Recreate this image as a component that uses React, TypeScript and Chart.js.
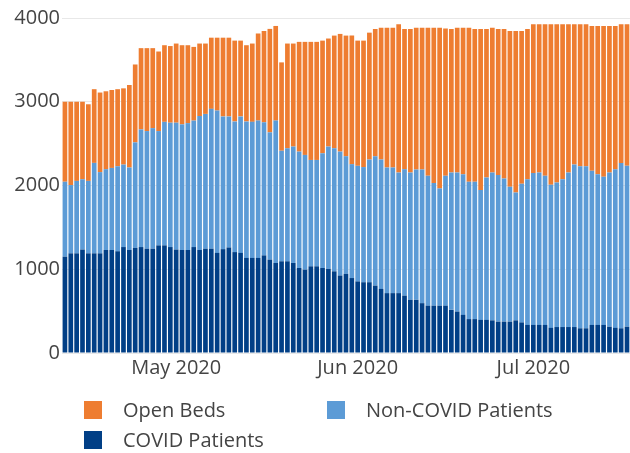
import React, { useEffect, useRef } from "react";
import { Chart, registerables } from "chart.js";

Chart.register(...registerables);

// First day shown and number of daily bars
const firstDay = "2020-04-12";
const dayCount = 97;

// Month tick labels (shown at first day of month)
const tickDays = ["2020-05-01", "2020-06-01", "2020-07-01"];
const tickLabels = ["May 2020", "Jun 2020", "Jul 2020"];

const yTicks = [0, 1000, 2000, 3000, 4000];

const covidPatients = [
  1150, 1190, 1190, 1235, 1190, 1190, 1190, 1230, 1230, 1215, 1265, 1230, 1255, 1265, 1245, 1245, 1285, 1285, 1265, 1235,
  1230, 1230, 1265, 1230, 1245, 1245, 1195, 1240, 1260, 1205, 1195, 1135, 1135, 1135, 1165, 1115, 1075, 1095, 1095, 1075,
  1015, 995, 1035, 1035, 1015, 1005, 975, 925, 945, 895, 855, 845, 845, 805, 765, 715, 715, 715, 685, 635,
  635, 595, 565, 565, 565, 565, 515, 495, 455, 405, 405, 395, 395, 390, 375, 375, 375, 390, 365, 335,
  335, 335, 335, 300, 310, 310, 310, 310, 295, 295, 335, 335, 335, 315, 300, 295, 315,
];

const nonCovidPatients = [
  895, 815, 865, 840, 865, 1080, 970, 965, 980, 1015, 985, 985, 1260, 1405, 1405, 1440, 1365, 1475, 1485, 1515,
  1500, 1515, 1510, 1600, 1610, 1670, 1700, 1585, 1565, 1560, 1630, 1630, 1625, 1640, 1590, 1520, 1700, 1320, 1350, 1390,
  1390, 1370, 1270, 1270, 1370, 1460, 1470, 1480, 1405, 1360, 1380, 1375, 1465, 1545, 1545, 1500, 1500, 1440, 1510, 1520,
  1555, 1595, 1550, 1465, 1400, 1550, 1640, 1660, 1680, 1640, 1640, 1550, 1700, 1765, 1750, 1710, 1610, 1525, 1655, 1740,
  1815, 1820, 1780, 1710, 1725, 1765, 1845, 1940, 1935, 1935, 1840, 1800, 1770, 1840, 1895, 1975, 1920,
];

const openBeds = [
  955, 995, 945, 925, 915, 880, 950, 930, 930, 920, 910, 985, 930, 970, 990, 955, 950, 915, 915, 945,
  945, 930, 880, 865, 840, 850, 870, 940, 940, 965, 905, 910, 935, 1040, 1090, 1235, 1130, 1055, 1250, 1230,
  1310, 1350, 1410, 1410, 1345, 1290, 1345, 1405, 1440, 1535, 1495, 1510, 1515, 1520, 1575, 1670, 1670, 1770, 1675, 1715,
  1695, 1695, 1770, 1855, 1920, 1760, 1715, 1730, 1750, 1840, 1825, 1925, 1775, 1730, 1745, 1785, 1860, 1930, 1825, 1795,
  1775, 1770, 1810, 1915, 1890, 1850, 1770, 1675, 1695, 1695, 1730, 1770, 1800, 1750, 1710, 1655, 1690,
];

const ORANGE = "#ee7d31";
const LIGHT_BLUE = "#5c9bd6";
const DARK_BLUE = "#013f86";
const TEXT = "#444444";
const FONT = "'Open Sans', sans-serif";

function buildDates(): string[] {
  const out: string[] = [];
  const d0 = new Date(firstDay + "T00:00:00Z");
  for (let i = 0; i < dayCount; i++) {
    const d = new Date(d0.getTime() + i * 86400000);
    out.push(d.toISOString().slice(0, 10));
  }
  return out;
}

const legendItems = [
  { label: "Open Beds", color: ORANGE, left: 84, top: 401 },
  { label: "Non-COVID Patients", color: LIGHT_BLUE, left: 327, top: 401 },
  { label: "COVID Patients", color: DARK_BLUE, left: 84, top: 431 },
];

export default function App() {
  const ref = useRef<HTMLCanvasElement>(null);

  useEffect(() => {
    const dates = buildDates();
    const chart = new Chart(ref.current as HTMLCanvasElement, {
      type: "bar",
      data: {
        labels: dates,
        datasets: [
          { label: "COVID Patients", data: covidPatients, backgroundColor: DARK_BLUE },
          { label: "Non-COVID Patients", data: nonCovidPatients, backgroundColor: LIGHT_BLUE },
          { label: "Open Beds", data: openBeds, backgroundColor: ORANGE },
        ],
      },
      options: {
        responsive: false,
        animation: false,
        layout: { padding: { top: 18, bottom: 70, left: 0, right: 0 } },
        datasets: { bar: { categoryPercentage: 1, barPercentage: 0.8 } },
        plugins: { legend: { display: false }, tooltip: { enabled: false } },
        scales: {
          x: {
            stacked: true,
            grid: { display: false, drawTicks: false },
            border: { display: false },
            ticks: {
              autoSkip: false,
              maxRotation: 0,
              minRotation: 0,
              padding: 3,
              color: TEXT,
              font: { family: FONT, size: 20 },
              callback: function (this: any, value: any) {
                const lab = this.getLabelForValue(value);
                const k = tickDays.indexOf(lab);
                return k >= 0 ? tickLabels[k] : "";
              },
            },
            afterFit: (s: any) => {
              s.height = 30;
            },
          },
          y: {
            stacked: true,
            min: yTicks[0],
            max: yTicks[yTicks.length - 1],
            grid: { color: "#e8e8e8", drawTicks: false },
            border: { display: false },
            ticks: {
              stepSize: 1000,
              padding: 2,
              color: TEXT,
              font: { family: FONT, size: 20 },
              callback: (value: any) => String(value),
            },
            afterFit: (s: any) => {
              s.width = 62;
            },
          },
        },
      },
    });
    return () => chart.destroy();
  }, []);

  return (
    <div style={{ position: "absolute", left: 0, top: 0, width: 630, height: 453, background: "#fff", overflow: "hidden" }}>
      <canvas ref={ref} width={630} height={453} style={{ display: "block" }} />
      {legendItems.map((it) => (
        <div key={it.label}>
          <div
            style={{ position: "absolute", left: it.left, top: it.top, width: 18, height: 18, background: it.color }}
          />
          <div
            style={{
              position: "absolute",
              left: it.left + 39,
              top: it.top - 6,
              height: 30,
              lineHeight: "30px",
              fontFamily: FONT,
              fontSize: 20,
              color: TEXT,
              whiteSpace: "nowrap",
            }}
          >
            {it.label}
          </div>
        </div>
      ))}
    </div>
  );
}
